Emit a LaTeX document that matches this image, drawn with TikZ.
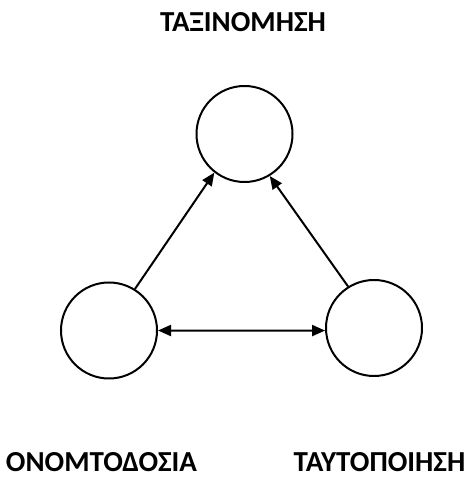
\documentclass[tikz,border=0pt]{standalone}
\usepackage{fontspec}
\setmainfont{Carlito}
\usetikzlibrary{arrows.meta}
\begin{document}
\begin{tikzpicture}[x=1pt,y=1pt,
  circ/.style={draw,circle,line width=2pt,minimum size=96pt,inner sep=0pt},
  lbl/.style={font=\fontsize{29}{34}\selectfont\bfseries,anchor=base,inner sep=0pt},
  arr/.style={line width=2pt,-{Triangle[length=13pt,width=11pt]}},
  darr/.style={line width=2pt,{Triangle[length=13pt,width=11pt]}-{Triangle[length=13pt,width=11pt]}}]
\useasboundingbox (0,0) rectangle (469,479);
\node[circ] (top) at (244.5,345) {};
\node[circ] (bl) at (109,148.5) {};
\node[circ] (br) at (374,151) {};
\node[lbl] (ltop) at (243,447) {ΤΑΞΙΝΟΜΗΣΗ};
\node[lbl] (lbl) at (101.5,7) {ΟΝΟΜΤΟΔΟΣΙΑ};
\node[lbl] (lbr) at (379.5,7) {ΤΑΥΤΟΠΟΙΗΣΗ};
\draw[arr] (bl.58) -- (top.232);
\draw[arr] (br.122) -- (top.301);
\draw[darr] (bl.0) -- (br.183);
\end{tikzpicture}
\end{document}
